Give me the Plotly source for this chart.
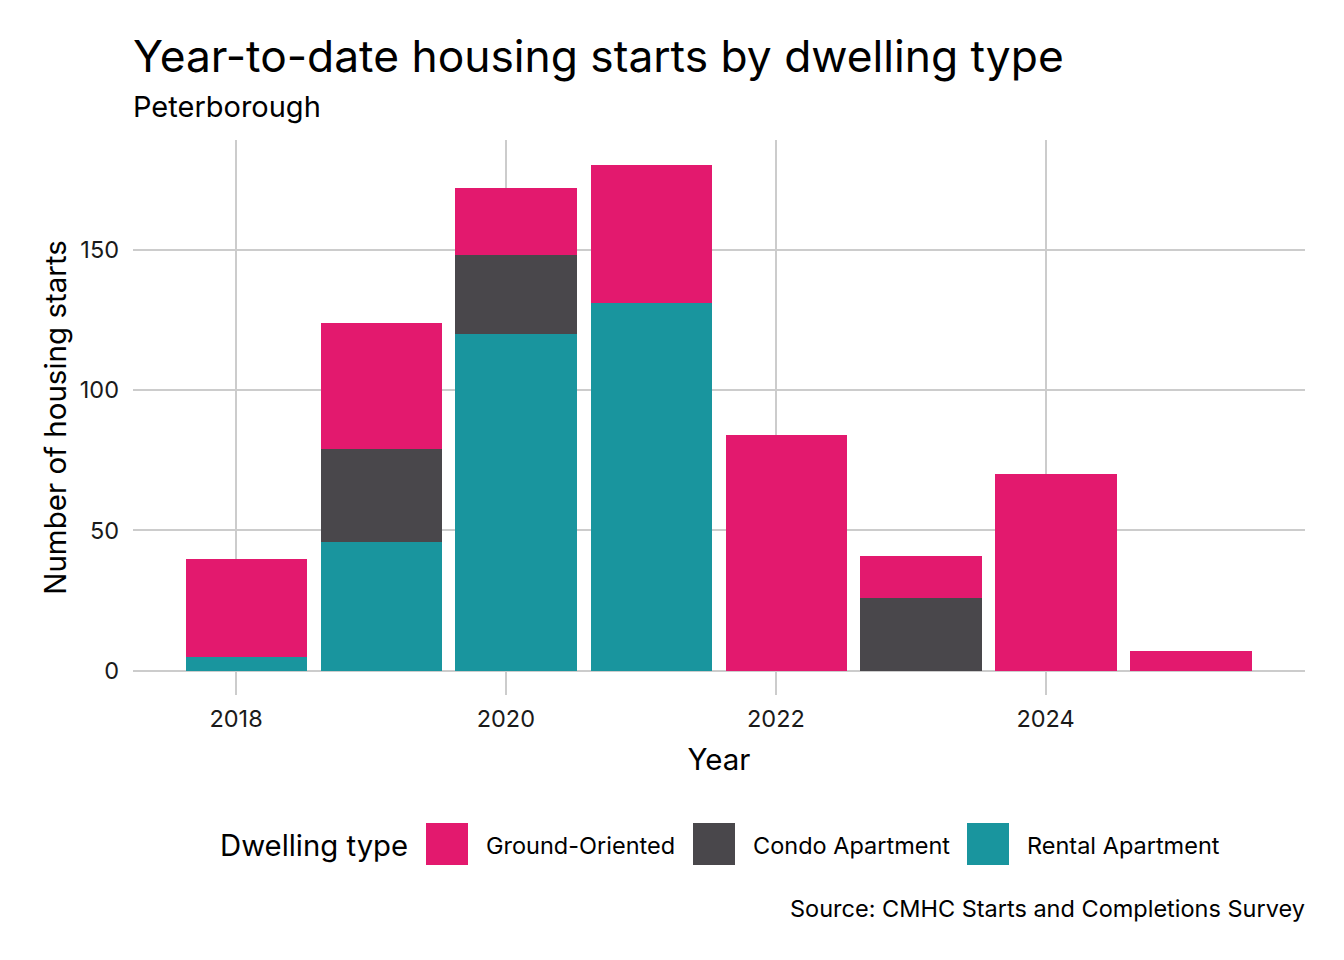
import plotly.graph_objects as go

years = [2018, 2019, 2020, 2021, 2022, 2023, 2024, 2025]
rental = [5, 46, 120, 131, 0, 0, 0, 0]
condo = [0, 33, 28, 0, 0, 26, 0, 0]
ground = [35, 45, 24, 49, 84, 15, 70, 7]
series_names = ["Ground-Oriented", "Condo Apartment", "Rental Apartment"]
y_ticks = [0, 50, 100, 150]
x_tick_years = [2018, 2020, 2022, 2024]

COLORS = {
    "Ground-Oriented": "#E3196E",
    "Condo Apartment": "#49474B",
    "Rental Apartment": "#19959E",
}
FONT = "Inter, Noto Sans, sans-serif"

W, H = 1344, 960
L, R, T, B = 133, 39, 140, 265
PW, PH = W - L - R, H - T - B

def px(x):
    return (x - L) / PW

def py(y):
    return (H - B - y) / PH

dates = [f"{y}-01-29" for y in years]
bar_width = 0.9 * 365.25 * 86400000

fig = go.Figure()
for name, vals in [("Rental Apartment", rental), ("Condo Apartment", condo), ("Ground-Oriented", ground)]:
    fig.add_trace(go.Bar(
        x=dates, y=vals, name=name, width=bar_width,
        marker=dict(color=COLORS[name], line=dict(width=0)),
        showlegend=False,
    ))

shapes = []
annotations = []

# Title & subtitle
annotations.append(dict(text="Year-to-date housing starts by dwelling type", x=px(131), y=py(56),
                        xref="paper", yref="paper", xanchor="left", yanchor="middle", showarrow=False,
                        font=dict(family=FONT, size=44.3, color="#000000")))
annotations.append(dict(text="Peterborough", x=px(131), y=py(107),
                        xref="paper", yref="paper", xanchor="left", yanchor="middle", showarrow=False,
                        font=dict(family=FONT, size=29, color="#000000")))

# Legend (drawn manually for large keys)
annotations.append(dict(text="Dwelling type", x=px(218), y=py(845), xref="paper", yref="paper",
                        xanchor="left", yanchor="middle", showarrow=False,
                        font=dict(family=FONT, size=29.3, color="#000000")))
legend_x = [426, 693, 967]
key = 42
for name, lx in zip(series_names, legend_x):
    shapes.append(dict(type="rect", xref="paper", yref="paper",
                       x0=px(lx), x1=px(lx + key), y0=py(865), y1=py(823),
                       fillcolor=COLORS[name], line=dict(width=0)))
    annotations.append(dict(text=name, x=px(lx + key + 16), y=py(845), xref="paper", yref="paper",
                            xanchor="left", yanchor="middle", showarrow=False,
                            font=dict(family=FONT, size=23.5, color="#000000")))

# Caption
annotations.append(dict(text="Source: CMHC Starts and Completions Survey", x=px(1307), y=py(908),
                        xref="paper", yref="paper", xanchor="right", yanchor="middle", showarrow=False,
                        font=dict(family=FONT, size=23.5, color="#000000")))

fig.update_layout(
    width=W, height=H,
    margin=dict(l=L, r=R, t=T, b=B, pad=0),
    barmode="stack",
    plot_bgcolor="white", paper_bgcolor="white",
    font=dict(family=FONT, color="#000000"),
    shapes=shapes, annotations=annotations,
    showlegend=False,
)
fig.update_xaxes(
    type="date",
    range=["2017-03-28", "2025-12-03"],
    tickvals=[f"{y}-01-01" for y in x_tick_years],
    ticktext=[str(y) for y in x_tick_years],
    showgrid=True, gridcolor="#CCCCCC", gridwidth=2,
    zeroline=False, showline=False,
    ticks="", ticklabelstandoff=7,
    tickfont=dict(family=FONT, size=23.5, color="#1a1a1a"),
    title=dict(text="Year", font=dict(family=FONT, size=29.5, color="#000000"), standoff=17),
)
fig.update_yaxes(
    range=[-8.6, 189],
    tickvals=y_ticks,
    showgrid=True, gridcolor="#CCCCCC", gridwidth=2,
    zeroline=False, showline=False,
    ticks="", ticklabelstandoff=13,
    tickfont=dict(family=FONT, size=23.5, color="#1a1a1a"),
    title=dict(text="Number of housing starts", font=dict(family=FONT, size=29.5, color="#000000"), standoff=4),
)

fig.write_html("out.html", config={"displayModeBar": False},
               post_script="document.body.style.margin='0';")
